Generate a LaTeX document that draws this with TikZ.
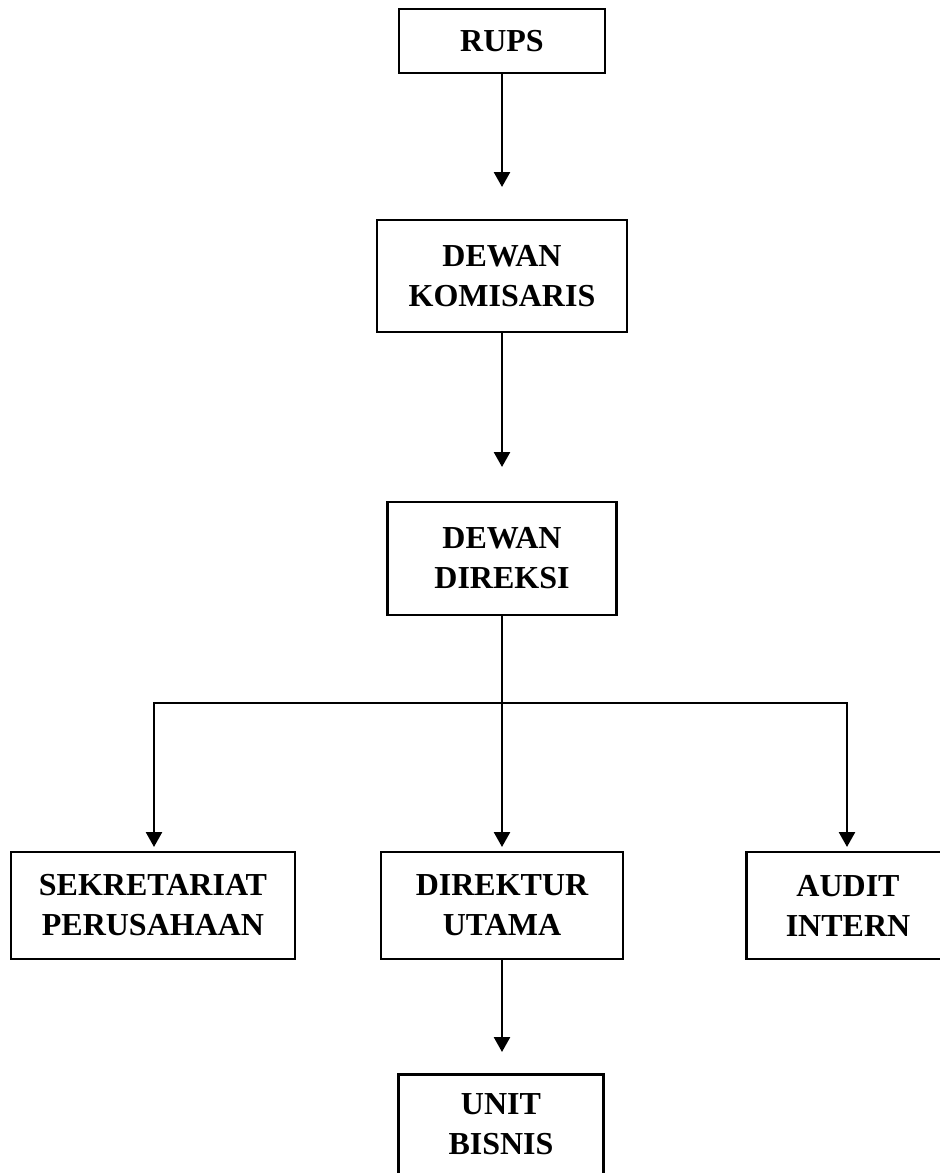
\documentclass[tikz,border=0pt]{standalone}
\usepackage{fontspec}
\setmainfont{Liberation Serif}
\usetikzlibrary{arrows.meta}
\begin{document}
\begin{tikzpicture}[x=1pt,y=-1pt,
  orgbox/.style={draw=black,line width=2.6pt,rectangle,inner sep=0pt,align=center,
    font=\fontsize{32pt}{40pt}\selectfont\bfseries},
  arr/.style={line width=2.6pt,-{Triangle[width=16pt,length=15pt]}},
  arrtwo/.style={line width=2.6pt,{Triangle[width=16pt,length=15pt]}-{Triangle[width=16pt,length=15pt]}}]
\useasboundingbox (0,0) rectangle (940,1173);
\clip (0,0) rectangle (940,1173);
\fill[white] (0,0) rectangle (940,1173);
\node[orgbox,minimum width=206pt,minimum height=64pt] (rups) at (502,41) {RUPS};
\node[orgbox,minimum width=250pt,minimum height=112pt] (dk) at (502,276) {DEWAN\\KOMISARIS};
\node[orgbox,minimum width=229pt,minimum height=113pt] (dd) at (502,558.5) {DEWAN\\DIREKSI};
\node[orgbox,minimum width=284pt,minimum height=107pt] (sek) at (153,905.5) {SEKRETARIAT\\PERUSAHAAN};
\node[orgbox,minimum width=242pt,minimum height=107pt] (du) at (502,905.5) {DIREKTUR\\UTAMA};
\node[orgbox,minimum width=203pt,minimum height=107pt] (ai) at (848,905.5) {AUDIT\\INTERN};
\node[orgbox,minimum width=205pt,minimum height=117pt,text depth=17pt,anchor=north] (ub) at (501,1073) {UNIT\\BISNIS};
\coordinate (t1) at (502,187);
\coordinate (t2) at (502,467);
\coordinate (tdu) at (502,847);
\coordinate (tsek) at (154,847);
\coordinate (tai) at (847,847);
\coordinate (cl) at (154,703);
\coordinate (cr) at (847,703);
\coordinate (tub) at (502,1052);
\draw[arr] (rups.south) -- (t1);
\draw[arr] (dk.south) -- (t2);
\draw[arr] (dd.south) -- (tdu);
\draw[arrtwo] (tsek) -- (cl) -- (cr) -- (tai);
\draw[arr] (du.south) -- (tub);
\end{tikzpicture}
\end{document}
